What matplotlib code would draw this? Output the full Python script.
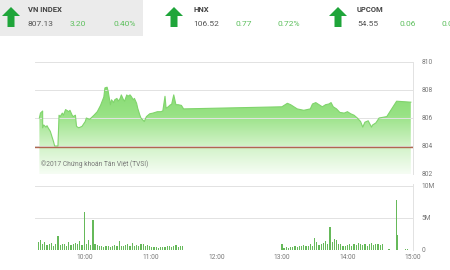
import numpy as np
import matplotlib
matplotlib.use("Agg")
import matplotlib.pyplot as plt
from matplotlib.patches import Polygon, Rectangle
from matplotlib.colors import LinearSegmentedColormap

plt.rcParams['font.family'] = ['Roboto', 'DejaVu Sans']

# ---- header quotes ----
idx_names = ["VN INDEX", "HNX", "UPCOM"]
idx_values = ["807.13", "106.52", "54.55"]
idx_change = ["3.20", "0.77", "0.06"]
idx_pct = ["0.40%", "0.72%", "0.06%"]

# ---- intraday index (time, value) ----
price_times = ["9:18", "9:19", "9:21", "9:21", "9:22", "9:24", "9:25", "9:26", "9:28",
               "9:31", "9:32", "9:35", "9:36", "9:37", "9:39", "9:40", "9:42", "9:43",
               "9:45", "9:46", "9:48", "9:49", "9:51", "9:52", "9:54", "9:57", "10:00",
               "10:01", "10:04", "10:08", "10:11", "10:14", "10:17", "10:18", "10:20",
               "10:21", "10:23", "10:24", "10:26", "10:27", "10:29", "10:30", "10:32",
               "10:33", "10:35", "10:36", "10:38", "10:39", "10:41", "10:42", "10:44",
               "10:45", "10:47", "10:48", "10:50", "10:51", "10:54", "10:56", "10:59",
               "11:02", "11:06", "11:09", "11:11", "11:13", "11:14", "11:16", "11:18",
               "11:19", "11:20", "11:21", "11:23", "11:25", "11:28", "11:30", "13:00",
               "13:05", "13:08", "13:11", "13:14", "13:17", "13:20", "13:23", "13:26",
               "13:28", "13:31", "13:34", "13:37", "13:40", "13:43", "13:45", "13:47",
               "13:50", "13:53", "13:57", "14:00", "14:03", "14:06", "14:09", "14:12",
               "14:14", "14:16", "14:19", "14:22", "14:23", "14:26", "14:29", "14:36",
               "14:45", "14:58"]
price_values = [806.0, 806.35, 806.5, 805.3, 805.5, 805.35, 805.45, 805.3, 805.05,
                804.3, 804.0, 804.0, 806.2, 806.1, 806.35, 806.2, 806.6, 806.55,
                806.45, 806.55, 806.2, 806.1, 806.2, 805.4, 805.3, 805.4, 805.75,
                806.0, 805.9, 806.2, 806.45, 806.9, 807.5, 808.15, 808.2,
                807.9, 806.95, 807.3, 807.1, 807.3, 807.4, 807.2, 807.4,
                807.65, 807.3, 807.2, 807.65, 807.55, 807.65, 807.55, 807.3,
                807.4, 807.05, 806.7, 806.2, 806.0, 805.75, 806.1, 806.3,
                806.35, 806.45, 806.45, 806.5, 807.55, 806.7, 806.8, 806.95,
                806.95, 807.3, 807.65, 806.95, 806.95, 806.9, 806.65, 806.8,
                807.05, 806.95, 806.8, 806.65, 806.6, 806.55, 806.6, 806.65,
                807.0, 807.1, 806.95, 806.8, 806.95, 807.0, 807.1, 806.8,
                806.65, 806.4, 806.35, 806.45, 806.3, 806.2, 806.0, 805.75,
                805.35, 805.7, 805.8, 805.35, 805.5, 805.65, 806.0, 806.1,
                807.2, 807.13]
prev_close = 803.93

# ---- volume (millions), 2-minute bins ----
vol_am_start = "9:17"
vol_am = [1.2, 1.6, 1.0, 1.3, 0.8, 0.9, 1.1, 0.7, 1.0, 2.2, 0.8, 1.0, 0.9, 0.7,
          1.2, 0.8, 1.0, 1.1, 0.9, 1.4, 0.8, 6.0, 0.9, 1.5, 0.8, 4.7, 1.0, 0.8,
          0.6, 0.7, 0.5, 0.6, 0.7, 0.5, 0.6, 0.8, 0.6, 1.4, 0.7, 0.6, 0.8, 0.9,
          0.6, 1.1, 0.7, 0.8, 0.6, 0.9, 1.0, 0.7, 0.8, 0.6, 0.5, 0.4, 0.4, 0.3,
          0.4, 0.5, 0.4, 0.6, 0.7, 0.5, 0.6, 0.8, 0.5, 0.7, 0.6]
vol_pm_start = "13:00"
vol_pm = [1.0, 0.3, 0.4, 0.3, 0.4, 0.5, 0.6, 0.5, 0.7, 0.6, 0.8, 0.7, 0.6, 0.9,
          0.7, 1.9, 1.2, 0.8, 1.0, 1.1, 1.4, 0.9, 3.6, 1.2, 1.7, 1.5, 1.0, 0.9,
          0.7, 0.6, 0.8, 0.9, 0.7, 1.0, 0.8, 1.1, 0.9, 0.8, 1.0, 0.7, 0.9, 1.1,
          0.8, 1.0, 0.9, 0.8, 1.0]
vol_close_times = ["14:38", "14:45", "14:46", "14:53", "14:55"]
vol_close = [0.1, 7.8, 2.3, 0.1, 0.1]

x_ticks = ["10:00", "11:00", "12:00", "13:00", "14:00", "15:00"]


def to_min(s):
    h, m = s.split(":")
    return int(h) * 60 + int(m)


px = np.array([to_min(t) for t in price_times], dtype=float)
py = np.array(price_values)
am_x = to_min(vol_am_start) + 2 * np.arange(len(vol_am))
pm_x = to_min(vol_pm_start) + 2 * np.arange(len(vol_pm))
cl_x = np.array([to_min(t) for t in vol_close_times])

fig = plt.figure(figsize=(4.5, 2.7), dpi=100)
W, H = 450, 270

# ---- header ----
fig.patches.append(Rectangle((0, 1 - 36 / H), 143 / W, 36 / H, transform=fig.transFigure,
                             facecolor="#ebebeb", edgecolor="none", zorder=0))
arrow_green = "#1fa53a"
val_green = "#5cbf5c"
for i, x0 in enumerate([11, 174, 338]):
    cx = x0 / W
    sx = lambda d: cx + d / W
    sy = lambda d: 1 - d / H
    arrow = [(sx(0), sy(7)), (sx(9), sy(16)), (sx(3.5), sy(16)), (sx(3.5), sy(27)),
             (sx(-3.5), sy(27)), (sx(-3.5), sy(16)), (sx(-9), sy(16))]
    fig.patches.append(Polygon(arrow, closed=True, transform=fig.transFigure,
                               facecolor=arrow_green, edgecolor="none"))
    tx = [28, 193, 357][i]
    fig.text(tx / W, 1 - 9 / H, idx_names[i], fontsize=5.5, fontweight="bold",
             color="#444444", va="center", ha="left")
    fig.text(tx / W, 1 - 24 / H, idx_values[i], fontsize=6, color="#555555",
             va="center", ha="left")
    fig.text((tx + 42) / W, 1 - 24 / H, idx_change[i], fontsize=6, color=val_green,
             va="center", ha="left")
    fig.text((tx + 85) / W, 1 - 24 / H, idx_pct[i], fontsize=6, color=val_green,
             va="center", ha="left")

left = 35 / W
width = 378 / W
xlim = (554, 900)
grid_c = "#e2e2e2"
tick_c = "#777777"

# ---- price panel ----
ax = fig.add_axes([left, (H - 174) / H, width, 112 / H])
ax.set_xlim(*xlim)
ax.set_ylim(802, 810)
grad = np.linspace(0, 1, 256).reshape(-1, 1)
cmap = LinearSegmentedColormap.from_list("g", ["#f6fdf4", "#cff2c5", "#98e285", "#84da70"])
img = ax.imshow(grad, cmap=cmap, aspect="auto", origin="lower",
                extent=[px[0], px[-1], 802, 808.3], zorder=1)
clip = Polygon(np.column_stack([np.r_[px, px[::-1]], np.r_[py, np.full(len(py), 802)]]),
               closed=True, transform=ax.transData, facecolor="none", edgecolor="none")
ax.add_patch(clip)
img.set_clip_path(clip)
ax.plot(px, py, color="#80d46c", lw=0.8, zorder=2)
ax.axhline(prev_close, color="#b0674f", lw=1.0, zorder=3)
ax.set_yticks([802, 804, 806, 808, 810])
ax.set_yticklabels(["802", "804", "806", "808", "810"])
ax.yaxis.tick_right()
ax.tick_params(axis="y", length=0, labelsize=4.8, colors=tick_c, pad=6)
ax.tick_params(axis="x", length=0, labelbottom=False)
ax.grid(axis="y", color=grid_c, lw=0.7, zorder=0)
for s in ["top", "left", "bottom"]:
    ax.spines[s].set_visible(False)
ax.spines["right"].set_color(grid_c)
ax.spines["right"].set_linewidth(0.7)
ax.text(0.017, 0.055, "©2017 Chứng khoán Tân Việt (TVSI)", transform=ax.transAxes,
        fontsize=4.8, color="#777777", va="bottom", ha="left", zorder=4)

# ---- volume panel ----
bx = fig.add_axes([left, 20 / H, width, 66 / H])
bx.set_xlim(*xlim)
bx.set_ylim(0, 10.3)
bar_c = "#66b95a"
bx.bar(am_x, vol_am, width=1.1, color=bar_c, zorder=2)
bx.bar(pm_x, vol_pm, width=1.1, color=bar_c, zorder=2)
bx.bar(cl_x, vol_close, width=1.0, color=bar_c, zorder=2)
bx.set_yticks([0, 5, 10])
bx.set_yticklabels(["0", "5M", "10M"])
bx.yaxis.tick_right()
bx.tick_params(axis="y", length=0, labelsize=4.8, colors=tick_c, pad=6)
bx.set_xticks([to_min(t) for t in x_ticks])
bx.set_xticklabels(x_ticks)
bx.tick_params(axis="x", length=0, labelsize=4.8, colors=tick_c, pad=3)
bx.grid(axis="y", color=grid_c, lw=0.7, zorder=0)
for s in ["top", "left", "bottom"]:
    bx.spines[s].set_visible(False)
bx.spines["right"].set_color(grid_c)
bx.spines["right"].set_linewidth(0.7)

fig.savefig("out.png", dpi=100)
